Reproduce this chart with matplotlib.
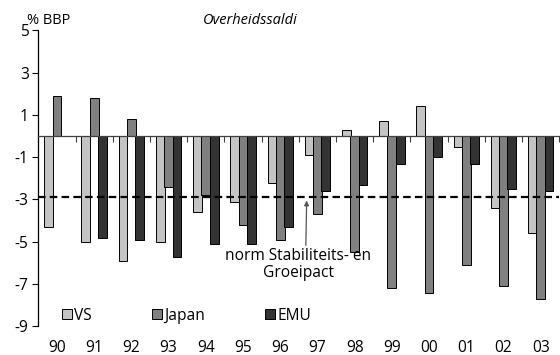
import numpy as np
import matplotlib
matplotlib.use("Agg")
import matplotlib.pyplot as plt

plt.rcParams['font.family'] = ['Open Sans', 'DejaVu Sans']

years = ['90', '91', '92', '93', '94', '95', '96', '97', '98', '99', '00', '01', '02', '03']
vs = [-4.3, -5.0, -5.9, -5.0, -3.6, -3.1, -2.2, -0.9, 0.3, 0.7, 1.4, -0.5, -3.4, -4.6]
japan = [1.9, 1.8, 0.8, -2.4, -2.8, -4.2, -4.9, -3.7, -5.5, -7.2, -7.4, -6.1, -7.1, -7.7]
emu = [np.nan, -4.8, -4.9, -5.7, -5.1, -5.1, -4.3, -2.6, -2.3, -1.3, -1.0, -1.3, -2.5, -2.6]
series_names = ['VS', 'Japan', 'EMU']
series_colors = ['#c4c4c4', '#808080', '#333333']
norm = -2.9
yticks = [5, 3, 1, -1, -3, -5, -7, -9]

FS = 11.2

fig = plt.figure(figsize=(5.6, 3.55), dpi=100)
ax = fig.add_axes([38.4/560, 1-326.4/355, (559.3-38.4)/560, (326.4-30.25)/355])

x = np.arange(len(years))
w = 0.235
step = 0.225
for i, (vals, name, col) in enumerate(zip([vs, japan, emu], series_names, series_colors)):
    ax.bar(x + (i-1)*step, vals, width=w, color=col, edgecolor='black', linewidth=0.7,
           label=name, zorder=2)

ax.set_xlim(-0.5, len(years)-0.5)
ax.set_ylim(-9, 5)

ax.axhline(norm, color='black', lw=1.6, linestyle=(0, (3.4, 1.9)), zorder=3)

for s in ['top', 'right']:
    ax.spines[s].set_visible(False)
ax.spines['bottom'].set_position(('data', 0))
ax.spines['bottom'].set_color('#404040')
ax.spines['bottom'].set_linewidth(0.9)
ax.spines['bottom'].set_zorder(3)
ax.spines['left'].set_linewidth(0.9)

ax.set_xticks(np.arange(-0.5, len(years), 1))
ax.set_xticklabels([])
ax.tick_params(axis='x', direction='out', length=4, width=0.8, color='#404040')

ax.set_yticks(yticks)
ax.set_yticklabels([str(v) for v in yticks], fontsize=FS)
ax.tick_params(axis='y', direction='out', length=4, width=0.8, pad=3)

sec = ax.secondary_xaxis('bottom')
sec.set_xticks(x)
sec.set_xticklabels(years, fontsize=FS)
sec.tick_params(length=0, pad=9.5)
sec.spines['bottom'].set_visible(False)

ax.annotate('norm Stabiliteits- en\nGroeipact', xy=(6.71, -3.05), xytext=(6.49, -5.3),
            ha='center', va='top', fontsize=FS, linespacing=1.1,
            arrowprops=dict(arrowstyle='-|>', color='#555555', lw=0.9,
                            mutation_scale=7, shrinkA=0, shrinkB=0,
                            relpos=(0.55, 1.0)))

leg = ax.legend(loc='center left', bbox_to_anchor=(61.7/560, 1-315.7/355),
                bbox_transform=fig.transFigure, ncol=3, frameon=False,
                fontsize=FS, handlelength=0.65, handleheight=0.65,
                handletextpad=0.15, columnspacing=3.85, borderpad=0, borderaxespad=0)

fig.text(27/560, 1-20/355, '% BBP', fontsize=10.5, ha='left', va='center')
fig.text(250/560, 1-20/355, 'Overheidssaldi', fontsize=10.5, style='italic', ha='center', va='center')

fig.savefig('out.png', dpi=100)
